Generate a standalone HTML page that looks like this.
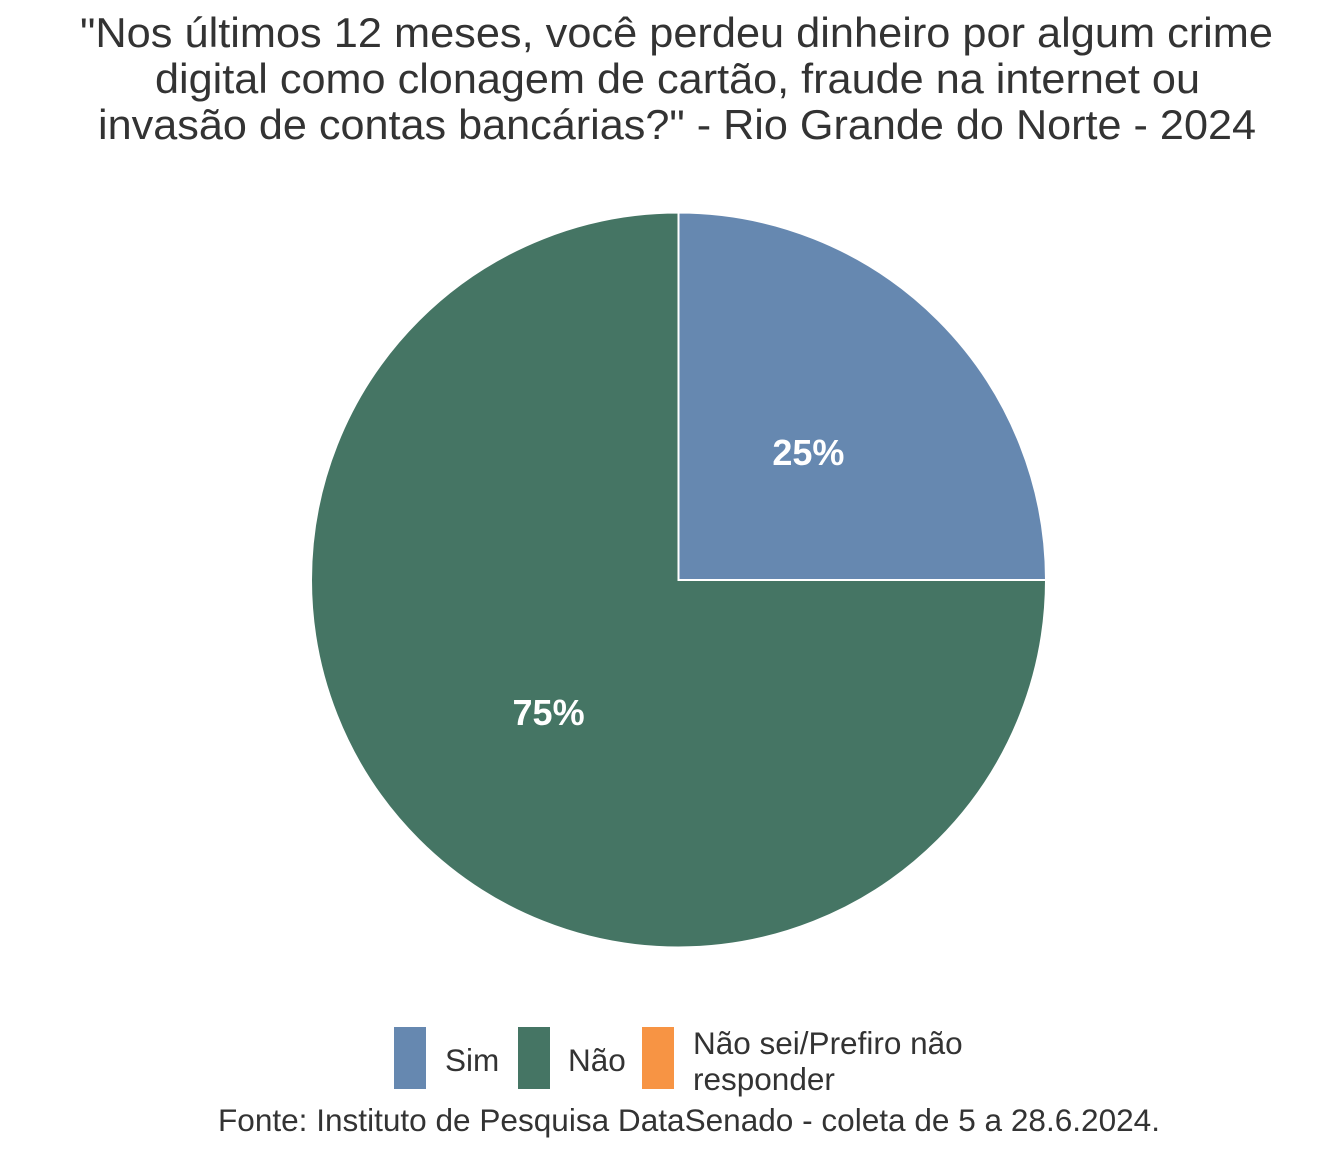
<!DOCTYPE html>
<html><head><meta charset="utf-8"><style>
body{margin:0;background:#fff;}
svg{display:block;font-family:"Liberation Sans",Arial,sans-serif;}
</style></head><body>
<svg id="chart" width="1344" height="1152" viewBox="0 0 1344 1152">
<g fill="#333" font-size="42" text-anchor="middle">
<text x="676.5" y="47" textLength="1193" lengthAdjust="spacingAndGlyphs">"Nos últimos 12 meses, você perdeu dinheiro por algum crime</text>
<text x="677.5" y="93" textLength="1045" lengthAdjust="spacingAndGlyphs">digital como clonagem de cartão, fraude na internet ou</text>
<text x="677" y="139" textLength="1158" lengthAdjust="spacingAndGlyphs">invasão de contas bancárias?" - Rio Grande do Norte - 2024</text>
</g>
<g id="slices"></g>
<g id="labels"></g>
<g font-size="31.5" fill="#333">
<rect x="394" y="1027" width="32" height="62" fill="#6688b0"/>
<text x="445" y="1071">Sim</text>
<rect x="518" y="1027" width="32" height="62" fill="#457564"/>
<text x="568" y="1071">Não</text>
<rect x="642" y="1027" width="32" height="62" fill="#f79444"/>
<text x="693" y="1054">Não sei/Prefiro não</text>
<text x="693" y="1090">responder</text>
</g>
<text x="689" y="1131" font-size="31.5" fill="#333" text-anchor="middle" textLength="942" lengthAdjust="spacingAndGlyphs">Fonte: Instituto de Pesquisa DataSenado - coleta de 5 a 28.6.2024.</text>
</svg>
<script>
const categories=["Sim","Não","Não sei/Prefiro não responder"];
const values=[25,75,0];
const labelsTxt=["25%","75%",""];
const colors=["#6688b0","#457564","#f79444"];
const cx=678.5,cy=580,R=367.5;
const NS="http://www.w3.org/2000/svg";
const total=values.reduce((a,b)=>a+b,0);
function pt(a,r){return [cx+r*Math.sin(a),cy-r*Math.cos(a)];}
let start=0;
const gs=document.getElementById('slices'),gl=document.getElementById('labels');
values.forEach((v,i)=>{
  if(v<=0)return;
  const ang=v/total*2*Math.PI,end=start+ang;
  const p0=pt(start,R),p1=pt(end,R);
  const large=ang>Math.PI?1:0;
  const path=document.createElementNS(NS,'path');
  path.setAttribute('d',`M${cx},${cy} L${p0[0]},${p0[1]} A${R},${R} 0 ${large} 1 ${p1[0]},${p1[1]} Z`);
  path.setAttribute('fill',colors[i]);
  path.setAttribute('stroke','#fff');
  path.setAttribute('stroke-width','2');
  
  
  gs.appendChild(path);
  const m=pt(start+ang/2,R*0.5);
  const t=document.createElementNS(NS,'text');
  t.setAttribute('x',m[0]);t.setAttribute('y',m[1]+15);
  t.setAttribute('text-anchor','middle');t.setAttribute('font-size','36');
  t.setAttribute('font-weight','bold');t.setAttribute('fill','#fff');
  
  
  t.textContent=labelsTxt[i];
  gl.appendChild(t);
  start=end;
});
</script>
</body></html>
